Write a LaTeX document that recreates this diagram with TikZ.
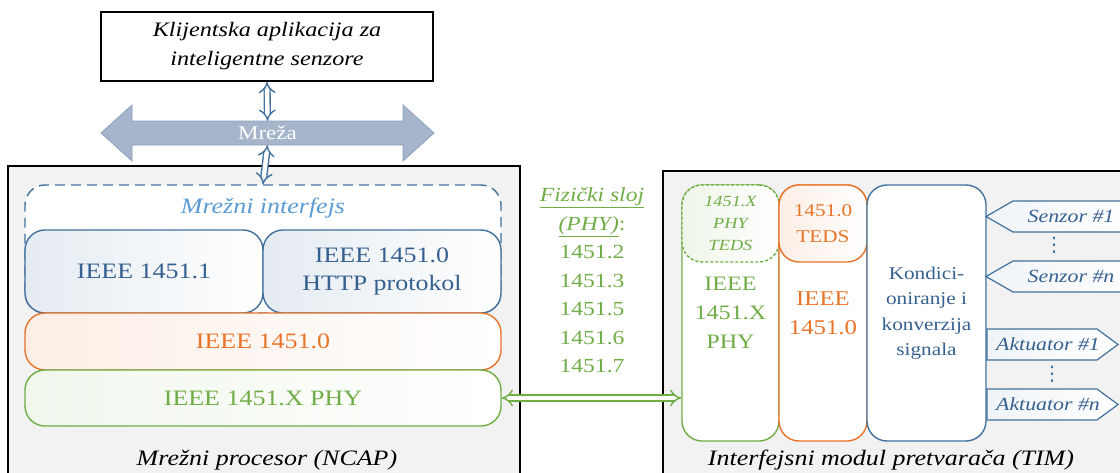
\documentclass[tikz,border=0pt]{standalone}
\usepackage{fontspec}
\setmainfont{Liberation Serif}[FakeStretch=1.18]
\newfontfamily\dotsfont{DejaVu Sans}
\usetikzlibrary{arrows.meta,positioning}
\definecolor{nblue}{HTML}{41719C}
\definecolor{ntext}{HTML}{35608F}
\definecolor{lblue}{HTML}{5B9BD5}
\definecolor{norange}{HTML}{E8742A}
\definecolor{ngreen}{HTML}{70AD47}
\definecolor{netfill}{HTML}{A7B5CC}
\definecolor{netline}{HTML}{8EA0BB}
\definecolor{panelgray}{HTML}{F2F2F2}

\tikzset{
  txt/.style={font=\fontsize{22}{28}\selectfont, align=center, inner sep=0pt},
  panel/.style={draw=black, fill=panelgray, line width=1.6pt, inner sep=0pt},
  layer/.style={txt, line width=1.4pt, rounded corners=20pt},
  bluelayer/.style={layer, draw=nblue, text=ntext, left color=nblue!14, right color=white},
  orangelayer/.style={layer, draw=norange, text=norange, left color=norange!12, right color=white},
  greenlayer/.style={layer, draw=ngreen, text=ngreen, left color=ngreen!10, right color=white},
  hollowlink/.style={double=white, double distance=4.4pt, line width=1.4pt, arrows={Implies-Implies}},
  sigshape/.style={draw=nblue, line width=1.2pt, left color=nblue!8, right color=white},
  sigtext/.style={txt, text=ntext, font=\fontsize{18.5}{20}\selectfont\itshape},
  dotstxt/.style={txt, text=nblue, font=\dotsfont\fontsize{20}{20}\selectfont},
}

\begin{document}
\begin{tikzpicture}[x=1pt,y=1pt,yscale=-1,xscale=1]
\useasboundingbox (0,0) rectangle (1120,472);

% Panels
\node[panel, minimum width=512pt, minimum height=330pt] (ncap) at (264,331) {};
\node[panel, minimum width=477pt, minimum height=324pt] (tim) at (901.5,333) {};

% Client application
\node[txt, draw=black, fill=white, line width=1.6pt, minimum width=332pt, minimum height=69pt,
  font=\fontsize{20.5}{29}\selectfont\itshape] (client) at (267,46.5) {Klijentska aplikacija za\\inteligentne senzore};

% Network
\draw[fill=netfill, draw=netline, line width=0.8pt] (132,121) -- (403,121) -- (403,105) -- (434,133) -- (403,161)
  -- (403,145) -- (132,145) -- (132,161) -- (101,133) -- (132,105) -- cycle;
\node[txt, text=white, font=\fontsize{19.5}{24}\selectfont, minimum width=271pt, minimum height=24pt] (net) at (267.5,133) {Mreža};

% Network interface
\node[draw=nblue, line width=1.4pt, dash pattern=on 10pt off 6pt, rounded corners=20pt, fill=white,
  minimum width=476pt, minimum height=128pt] (iface) at (263,249) {};
\node[txt, text=lblue, font=\fontsize{22}{26}\selectfont\itshape] (ifacelbl) at (263,208) {Mrežni interfejs};

% NCAP layers
\node[bluelayer, minimum width=238pt, minimum height=83pt] (ncapdotone) at (144,271.5) {IEEE 1451.1};
\node[bluelayer, minimum width=238pt, minimum height=83pt] (ncaphttp) at (382,271.5) {IEEE 1451.0\\HTTP protokol};
\node[orangelayer, minimum width=476pt, minimum height=57pt] (ncapdotzero) at (263,341.5) {IEEE 1451.0};
\node[greenlayer, minimum width=476pt, minimum height=56pt] (ncapphy) at (263,398) {IEEE 1451.X PHY};
\node[txt, font=\fontsize{22}{28}\selectfont\itshape] (ncaplbl) at (267,460) {Mrežni procesor (NCAP)};

% Physical layer list
\node[txt, text=ngreen, font=\fontsize{20}{28.5}\selectfont] (phylist) at (592,280.5)
  {\underline{\itshape Fizički sloj}\\\underline{\itshape (PHY)}:\\1451.2\\1451.3\\1451.5\\1451.6\\1451.7};

% TIM columns
\node[layer, draw=ngreen, text=ngreen, fill=white, minimum width=97pt, minimum height=256pt,
  font=\fontsize{20.5}{29}\selectfont] (timphy) at (730.5,313) {IEEE\\1451.X\\PHY};
\node[layer, draw=ngreen, text=ngreen, left color=ngreen!12, right color=white, dash pattern=on 3pt off 2pt,
  minimum width=97pt, minimum height=77pt, font=\fontsize{15.5}{22}\selectfont\itshape] (phyteds) at (730.5,223.5) {1451.X\\PHY\\TEDS};
\node[layer, draw=norange, text=norange, fill=white, minimum width=88pt, minimum height=256pt,
  font=\fontsize{21}{29}\selectfont] (timdotzero) at (823,313) {IEEE\\1451.0};
\node[orangelayer, minimum width=88pt, minimum height=77pt, font=\fontsize{18}{26}\selectfont] (dotzeroteds) at (823,223.5) {1451.0\\TEDS};
\node[layer, draw=nblue, text=ntext, fill=white, minimum width=119pt, minimum height=256pt,
  font=\fontsize{18}{25.5}\selectfont] (sigcond) at (926.5,313) {Kondici-\\oniranje i\\konverzija\\signala};
\node[txt, font=\fontsize{22}{28}\selectfont\itshape] (timlbl) at (891,460) {Interfejsni modul pretvarača (TIM)};

% Sensors
\draw[sigshape] (986,216.5) -- (1013,201) -- (1140,201) -- (1140,232) -- (1013,232) -- cycle;
\node[sigtext] (senzorone) at (1071,216.5) {Senzor \#1};
\node[dotstxt] (sdots) at (1054,245) {⋮};
\draw[sigshape] (986,276.5) -- (1013,261) -- (1140,261) -- (1140,292) -- (1013,292) -- cycle;
\node[sigtext] (senzorn) at (1071,276.5) {Senzor \#n};

% Actuators
\draw[sigshape] (987,329) -- (1097,329) -- (1118,344.5) -- (1097,360) -- (987,360) -- cycle;
\node[sigtext] (aktone) at (1048,344.5) {Aktuator \#1};
\node[dotstxt] (adots) at (1052,374) {⋮};
\draw[sigshape] (987,389) -- (1097,389) -- (1118,404.5) -- (1097,420) -- (987,420) -- cycle;
\node[sigtext] (aktn) at (1048,404.5) {Aktuator \#n};

% Links
\draw[hollowlink, draw=nblue] (client.south) -- (net.north);
\draw[hollowlink, draw=nblue] (net.south) -- (iface.north);
\draw[hollowlink, draw=ngreen] (ncapphy.east) -- (ncapphy.east -| timphy.west);

\end{tikzpicture}
\end{document}
